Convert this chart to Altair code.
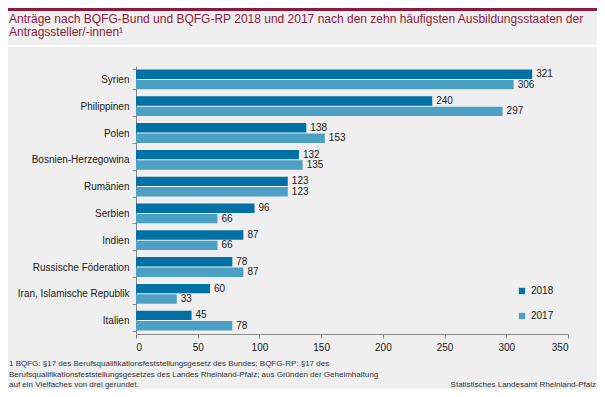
import altair as alt
import pandas as pd

laender = ["Syrien", "Philippinen", "Polen", "Bosnien-Herzegowina", "Rumänien",
           "Serbien", "Indien", "Russische Föderation", "Iran, Islamische Republik", "Italien"]
werte_2018 = [321, 240, 138, 132, 123, 96, 87, 78, 60, 45]
werte_2017 = [306, 297, 153, 135, 123, 66, 66, 87, 33, 78]
jahre = ["2018", "2017"]
farben = ["#0071a4", "#4ca0c4"]

titel = ["Anträge nach BQFG-Bund und BQFG-RP 2018 und 2017 nach den zehn häufigsten Ausbildungsstaaten der",
         "Antragssteller/-innen¹"]
fussnote = ["1  BQFG:  §17  des  Berufsqualifikationsfeststellungsgesetz  des  Bundes;   BQFG-RP:  §17  des",
            "Berufsqualifikationsfeststellungsgesetzes des Landes Rheinland-Pfalz;  aus Gründen der Geheimhaltung",
            "auf ein Vielfaches von drei gerundet."]
quelle = "Statistisches Landesamt Rheinland-Pfalz"

rows = []
for i, land in enumerate(laender):
    rows.append({"Land": land, "Jahr": "2018", "Wert": werte_2018[i]})
    rows.append({"Land": land, "Jahr": "2017", "Wert": werte_2017[i]})
df = pd.DataFrame(rows)

FONT = "Liberation Sans"
one = alt.Data(values=[{"a": 1}])

y_enc = alt.Y("Land:N", sort=laender, title=None,
              scale=alt.Scale(paddingInner=0.26, paddingOuter=0.13),
              axis=alt.Axis(tickBand="extent", tickSize=4, labelPadding=3,
                            labelFontSize=10, labelColor="#1a1a1a", labelFont=FONT,
                            domainColor="#8a8a8a", tickColor="#8a8a8a"))
yoff_enc = alt.YOffset("Jahr:N", sort=jahre, scale=alt.Scale(paddingInner=0.1))
x_enc = alt.X("Wert:Q", title=None,
              scale=alt.Scale(domain=[0, 350], nice=False),
              axis=alt.Axis(values=list(range(0, 351, 50)), grid=False, tickSize=4,
                            labelFontSize=10, labelColor="#1a1a1a", labelFont=FONT,
                            domainColor="#8a8a8a", tickColor="#8a8a8a", labelPadding=4))

bars = alt.Chart(df).mark_bar().encode(
    y=y_enc, yOffset=yoff_enc, x=x_enc,
    color=alt.Color("Jahr:N", sort=jahre, scale=alt.Scale(domain=jahre, range=farben),
                    legend=alt.Legend(title=None, orient="none", legendX=381, legendY=220,
                                      symbolType="square", symbolSize=40, labelFontSize=10,
                                      labelFont=FONT, labelColor="#1a1a1a", rowPadding=15,
                                      padding=0, symbolStrokeWidth=0))
)
labels = alt.Chart(df).mark_text(align="left", baseline="middle", dx=4, fontSize=10,
                                 font=FONT, color="#1a1a1a").encode(
    y=alt.Y("Land:N", sort=laender), yOffset=alt.YOffset("Jahr:N", sort=jahre),
    x="Wert:Q", text="Wert:Q")

red_bar = alt.Chart(one).mark_rect(color="#8b1c3f").encode(
    x=alt.value(-128), x2=alt.value(461), y=alt.value(-58), y2=alt.value(-55))
white_line = alt.Chart(one).mark_rect(color="#ffffff").encode(
    x=alt.value(-128), x2=alt.value(461), y=alt.value(-21), y2=alt.value(-19))
title_txt = alt.Chart(one).mark_text(align="left", baseline="middle", fontSize=12,
                                     font=FONT, color="#8b1c3f", lineHeight=13).encode(
    x=alt.value(-127), y=alt.value(-47), text=alt.value(titel))
foot_txt = alt.Chart(one).mark_text(align="left", baseline="middle", fontSize=8,
                                    font=FONT, color="#333333", lineHeight=10.5).encode(
    x=alt.value(-127), y=alt.value(298), text=alt.value(fussnote))
src_txt = alt.Chart(one).mark_text(align="right", baseline="middle", fontSize=8,
                                   font=FONT, color="#333333").encode(
    x=alt.value(460), y=alt.value(319), text=alt.value(quelle))

chart = alt.layer(red_bar, white_line, title_txt, bars, labels, foot_txt, src_txt).properties(
    width=432, height=268,
    autosize=alt.AutoSizeParams(type="none"),
    padding={"left": 128, "top": 58, "right": 29, "bottom": 55},
    background="#eeefee",
).configure_view(stroke=None)

chart.save("out.html", embed_options={"renderer": "svg", "actions": False})
